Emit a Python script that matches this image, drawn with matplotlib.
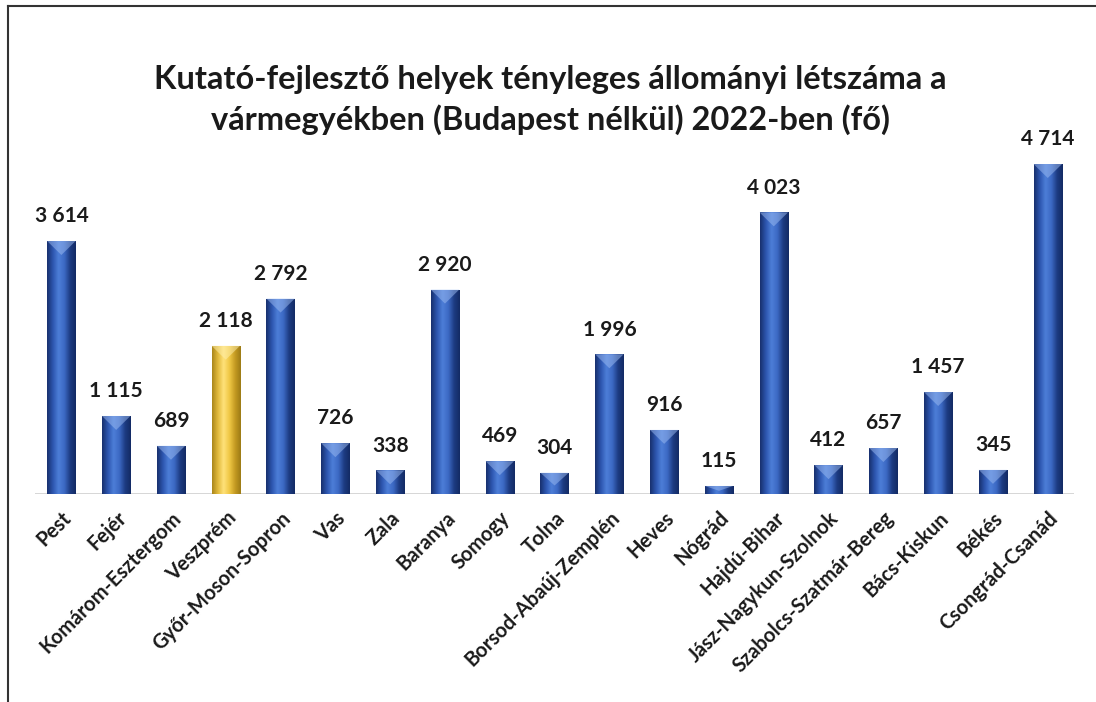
import numpy as np
import matplotlib
matplotlib.use("Agg")
import matplotlib.pyplot as plt
from matplotlib.colors import LinearSegmentedColormap
from matplotlib.patches import Polygon
from matplotlib.lines import Line2D

counties = ["Pest", "Fejér", "Komárom-Esztergom", "Veszprém", "Győr-Moson-Sopron",
            "Vas", "Zala", "Baranya", "Somogy", "Tolna", "Borsod-Abaúj-Zemplén",
            "Heves", "Nógrád", "Hajdú-Bihar", "Jász-Nagykun-Szolnok",
            "Szabolcs-Szatmár-Bereg", "Bács-Kiskun", "Békés", "Csongrád-Csanád"]
values = [3614, 1115, 689, 2118, 2792, 726, 338, 2920, 469, 304, 1996,
          916, 115, 4023, 412, 657, 1457, 345, 4714]
highlight = "Veszprém"

title = "Kutató-fejlesztő helyek tényleges állományi létszáma a\nvármegyékben (Budapest nélkül) 2022-ben (fő)"

plt.rcParams['font.family'] = ['Lato', 'DejaVu Sans']

fig = plt.figure(figsize=(10.96, 7.02), dpi=100)
ax = fig.add_axes([0.032, 0.2963, 0.948, 0.4986])

blue_cmap = LinearSegmentedColormap.from_list(
    "b", ["#172f6c", "#2c55ae", "#4d7ed8", "#3c69c4", "#1d3b82", "#132a63"])
gold_cmap = LinearSegmentedColormap.from_list(
    "g", ["#a8841a", "#e0b83a", "#ffe27a", "#f0c845", "#c49a22", "#9c7a15"])
grad = np.linspace(0, 1, 256).reshape(1, -1)

x = np.arange(len(counties))
width = 0.52
bars = ax.bar(x, values, width=width, color='none', edgecolor='none', zorder=2)

for bar, name, v in zip(bars, counties, values):
    cmap = gold_cmap if name == highlight else blue_cmap
    x0 = bar.get_x()
    w = bar.get_width()
    x1 = x0 + w
    im = ax.imshow(grad, extent=[x0, x1, 0, v], aspect='auto', cmap=cmap,
                   zorder=3, interpolation='bicubic')
    im.set_clip_path(bar)
    # top bevel highlight (chevron)
    bev = min(200, v * 0.6)
    light = "#fff0b0" if name == highlight else "#9dbcf2"
    tri = Polygon([[x0, v], [x1, v], [x0 + w * 0.5, v - bev]],
                  closed=True, facecolor=light, alpha=0.5, edgecolor='none', zorder=4)
    ax.add_patch(tri)
    ax.text(x0 + w / 2, v + 210,
            f"{v:,}".replace(",", " "), ha='center', va='bottom',
            fontsize=15, fontweight='bold', color='#1a1a1a', zorder=5)

ax.axhline(0, color='#d0d0d0', lw=1.2, zorder=1)
ax.set_xlim(-0.48, len(counties) - 0.52)
ax.set_ylim(0, 5000)
ax.set_xticks(x)
ax.set_xticklabels(counties, rotation=45, ha='right', rotation_mode='anchor',
                   fontsize=14.5, fontweight='bold', color='#1a1a1a')
ax.tick_params(axis='x', length=0, pad=10)
ax.set_yticks([])
for s in ax.spines.values():
    s.set_visible(False)

fig.text(0.502, 0.858, title, ha='center', va='center', fontsize=23.5,
         fontweight='bold', color='#1a1a1a', linespacing=1.4)

# frame lines (top and left)
fig.add_artist(Line2D([0.007, 1.0], [0.991, 0.991], transform=fig.transFigure,
                      color='#333333', lw=1.5))
fig.add_artist(Line2D([0.007, 0.007], [0.0, 0.991], transform=fig.transFigure,
                      color='#333333', lw=1.5))

fig.savefig("out.png", dpi=100)
